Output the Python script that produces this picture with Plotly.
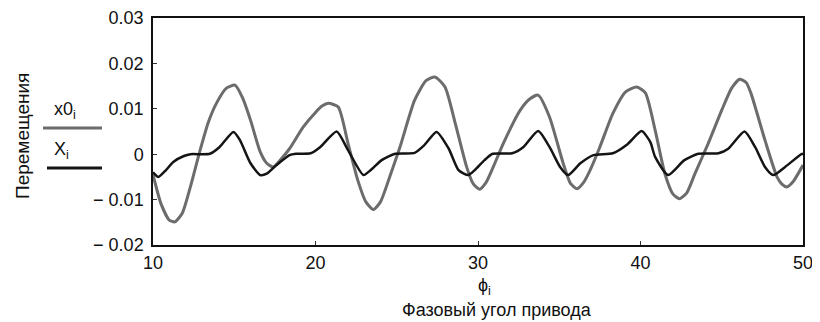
import plotly.graph_objects as go

# Gray curve x0_i
phi_x0 = [10.0, 10.5, 11.0, 11.35, 11.8, 12.3, 12.9, 13.4, 13.9, 14.5, 15.05, 15.5, 16.0, 16.6, 17.0, 17.4,
          17.9, 18.4, 19.25, 20.0, 20.4, 20.8, 21.4, 22.0, 22.6, 23.1, 23.56, 24.0, 24.5, 25.2, 26.1, 26.8,
          27.35, 27.97, 28.6, 29.3, 29.7, 30.1, 30.5, 30.94, 31.56, 32.6, 33.2, 33.7, 34.4, 35.25, 35.7,
          36.1, 36.5, 36.9, 37.5, 38.3, 39.1, 39.77, 40.3, 40.9, 41.5, 42.0, 42.4, 42.85, 43.35, 44.17,
          45.0, 45.6, 46.1, 46.5, 46.8, 47.66, 48.4, 48.7, 49.0, 49.4, 50.0]
x0_vals = [-0.0045, -0.0110, -0.0145, -0.0149, -0.0130, -0.0072, 0.0009, 0.0070, 0.0112, 0.0145, 0.0152,
           0.0125, 0.0075, 0.0005, -0.0020, -0.0028, -0.0010, 0.0012, 0.0060, 0.0092, 0.0106, 0.0112,
           0.0104, 0.0024, -0.0057, -0.0105, -0.0122, -0.0105, -0.0057, 0.0016, 0.0119, 0.0162, 0.0170,
           0.0148, 0.0068, -0.0028, -0.0065, -0.0077, -0.0062, -0.0028, 0.0024, 0.0097, 0.0122, 0.0130,
           0.0082, -0.0021, -0.0065, -0.0076, -0.0062, -0.0035, 0.0016, 0.0090, 0.0138, 0.0148, 0.0135,
           0.0053, -0.0043, -0.0088, -0.0098, -0.0085, -0.0043, 0.0024, 0.0097, 0.0145, 0.0165, 0.0158,
           0.0134, 0.0031, -0.0050, -0.0066, -0.0072, -0.0060, -0.0024]

# Black curve X_i
phi_X = [10.0, 10.33, 10.8, 11.25, 11.9, 12.3, 13.5, 14.1, 14.95, 15.35, 16.0, 16.6, 17.0, 17.6, 18.4, 18.8,
         19.7, 20.3, 21.3, 22.0, 22.95, 23.4, 24.07, 24.9, 26.1, 26.7, 27.45, 28.2, 28.8, 29.4, 29.8, 30.4,
         30.9, 32.1, 32.8, 33.7, 34.4, 35.05, 35.55, 36.3, 37.1, 38.3, 39.2, 40.07, 40.6, 40.9, 41.7, 42.7,
         43.55, 44.8, 45.4, 46.4, 47.05, 47.66, 48.17, 48.9, 49.9, 50.0]
X_vals = [-0.0040, -0.0050, -0.0035, -0.0017, -0.0004, 0.0000, 0.0001, 0.0016, 0.0049, 0.0031, -0.0020,
          -0.0046, -0.0043, -0.0024, -0.0002, 0.0001, 0.0002, 0.0016, 0.0050, 0.0009, -0.0046, -0.0035,
          -0.0013, 0.0001, 0.0003, 0.0020, 0.0049, 0.0012, -0.0035, -0.0046, -0.0035, -0.0013, 0.0001,
          0.0002, 0.0016, 0.0051, 0.0016, -0.0028, -0.0046, -0.0020, -0.0002, 0.0002, 0.0022, 0.0051,
          0.0027, -0.0006, -0.0046, -0.0013, 0.0001, 0.0002, 0.0012, 0.0050, 0.0016, -0.0028, -0.0046,
          -0.0028, 0.0000, 0.0001]

x_tickvals = [10, 20, 30, 40, 50]
x_ticktext = ["10", "20", "30", "40", "50"]
y_tickvals = [0.03, 0.02, 0.01, 0, -0.01, -0.02]
y_ticktext = ["0.03", "0.02", "0.01", "0", "− 0.01", "− 0.02"]

GRAY = "#6c6c6c"
BLACK = "#151515"
FONT = "Arial, Liberation Sans, sans-serif"
FS = 18

fig = go.Figure()
fig.add_trace(go.Scatter(x=phi_x0, y=x0_vals, mode="lines",
                         line=dict(color=GRAY, width=3, shape="spline", smoothing=0.6)))
fig.add_trace(go.Scatter(x=phi_X, y=X_vals, mode="lines",
                         line=dict(color=BLACK, width=2.5, shape="spline", smoothing=0.6)))

# page body has an 8px margin, so the figure is shrunk by 8px
OFF = 8
W, H = 820 - OFF, 322 - OFF
L, R, T, B = 153 - OFF, 17, 18 - OFF, 77
pw = W - L - R
ph = H - T - B

def px(x):
    return (x - OFF - L) / pw

def py(y):
    return (H - B - (y - OFF)) / ph

fig.update_layout(
    width=W, height=H, showlegend=False,
    margin=dict(l=L, r=R, t=T, b=B, autoexpand=False),
    paper_bgcolor="white", plot_bgcolor="white",
    font=dict(family=FONT, size=FS, color="#111"),
    xaxis=dict(range=[10, 50], tickvals=x_tickvals, ticktext=x_ticktext, automargin=False,
               showgrid=False, zeroline=False, showline=True, linecolor="#111", linewidth=1.5,
               mirror=True, ticks="inside", ticklen=4, tickcolor="#333",
               ticklabelstandoff=1, tickfont=dict(size=FS, family=FONT)),
    yaxis=dict(range=[-0.02, 0.03], tickvals=y_tickvals, ticktext=y_ticktext, automargin=False,
               showgrid=False, zeroline=False, showline=True, linecolor="#111", linewidth=1.5,
               mirror=True, ticks="inside", ticklen=4, tickcolor="#333",
               ticklabelstandoff=4, tickfont=dict(size=FS, family=FONT)),
)

# axis titles
fig.add_annotation(xref="paper", yref="paper", x=px(484), y=py(286), text="ϕ<sub>i</sub>",
                   showarrow=False, font=dict(size=FS, family=FONT), xanchor="center", yanchor="middle")
fig.add_annotation(xref="paper", yref="paper", x=px(497), y=py(310), text="Фазовый угол привода",
                   showarrow=False, font=dict(size=FS, family=FONT), xanchor="center", yanchor="middle")
fig.add_annotation(xref="paper", yref="paper", x=px(22), y=py(136), text="Перемещения",
                   textangle=-90, showarrow=False, font=dict(size=19, family=FONT),
                   xanchor="center", yanchor="middle")

# legend-like labels
fig.add_annotation(xref="paper", yref="paper", x=px(65), y=py(110), text="x0<sub>i</sub>",
                   showarrow=False, font=dict(size=FS, family=FONT), xanchor="center", yanchor="middle")
fig.add_shape(type="line", xref="paper", yref="paper", x0=px(43), x1=px(102), y0=py(128), y1=py(128),
              line=dict(color=GRAY, width=3))
fig.add_annotation(xref="paper", yref="paper", x=px(62), y=py(150), text="X<sub>i</sub>",
                   showarrow=False, font=dict(size=FS, family=FONT), xanchor="center", yanchor="middle")
fig.add_shape(type="line", xref="paper", yref="paper", x0=px(47), x1=px(102), y0=py(168), y1=py(168),
              line=dict(color=BLACK, width=3))

fig.write_html("out.html")
